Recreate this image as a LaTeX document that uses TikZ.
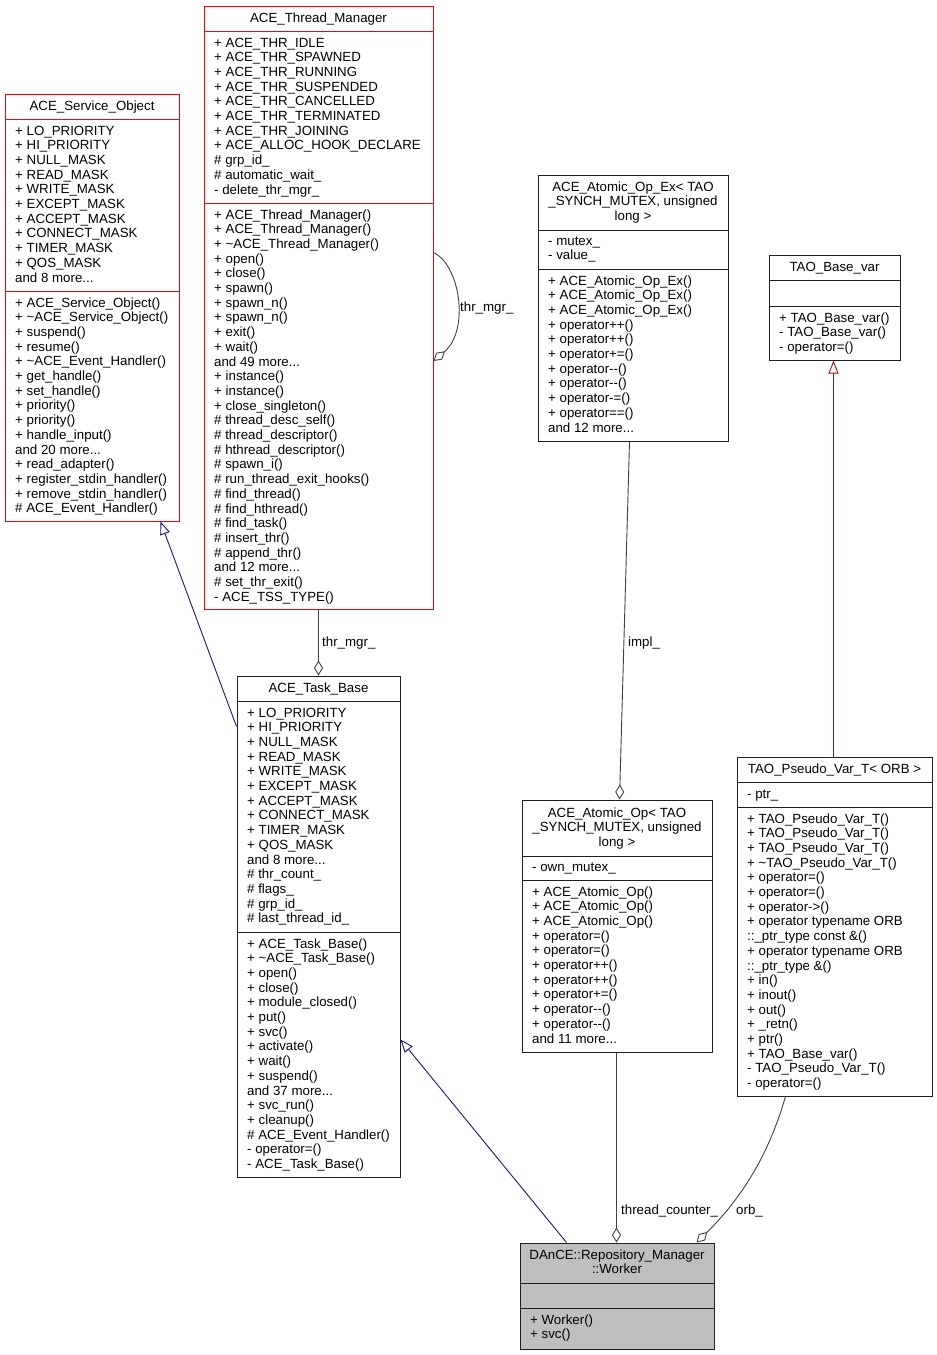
\documentclass[tikz,border=0pt]{standalone}
\usepackage{fontspec}
\setmainfont{Liberation Sans}
\usetikzlibrary{arrows.meta,calc,fit}
\definecolor{edgegray}{RGB}{64,64,64}
\definecolor{inhblue}{RGB}{25,25,112}
\definecolor{inhred}{RGB}{139,26,26}
\definecolor{workerfill}{RGB}{191,191,191}
\definecolor{boxred}{RGB}{255,0,0}
\definecolor{boxblack}{RGB}{30,30,30}
\tikzset{
  txt/.style={inner sep=0pt, font=\fontsize{13.3}{14.7}\selectfont},
  lbl/.style={inner sep=0pt, font=\fontsize{13.3}{14.7}\selectfont, anchor=base west},
  classblack/.style={draw=boxblack, line width=1pt, inner sep=0pt, fill=white},
  classred/.style={draw=boxred, line width=1pt, inner sep=0pt, fill=white},
  classgray/.style={draw=boxblack, line width=1pt, inner sep=0pt, fill=workerfill},
  divblack/.style={draw=boxblack, line width=1pt},
  divred/.style={draw=boxred, line width=1pt},
  inhb/.style={draw=inhblue, line width=0.9pt, -{Triangle[open, length=13pt, width=10pt]}},
  inhr/.style={draw=inhred, line width=0.9pt, -{Triangle[open, length=13pt, width=10pt]}},
  agg/.style={draw=edgegray, line width=0.9pt, -{Diamond[open, length=15pt, width=9pt]}}
}
\newcommand\txtlines[5]{%
  \foreach \tx [count=\i from 0] in {#5} {\node[txt, anchor=#4, name=#1\i] at (#2, #3+\i*14.7) {\tx};}}
\begin{document}
\begin{tikzpicture}[x=1pt, y=-1pt]
\useasboundingbox (0,0) rectangle (937,1355);

% ---------------- ACE_Service_Object
\node[classred, fit={(5,94) (179,521)}] (so) {};
\draw[divred] (5,119) -- (179,119);
\draw[divred] (5,291) -- (179,291);
\txtlines{sot}{92}{110}{base}{ACE\_Service\_Object}
\txtlines{soa}{15}{135}{base west}{+ LO\_PRIORITY, + HI\_PRIORITY, + NULL\_MASK, + READ\_MASK, + WRITE\_MASK, + EXCEPT\_MASK, + ACCEPT\_MASK, + CONNECT\_MASK, + TIMER\_MASK, + QOS\_MASK, and 8 more.{}.{}.}
\txtlines{som}{15}{307}{base west}{+ ACE\_Service\_Object(), + \textasciitilde ACE\_Service\_Object(), + suspend(), + resume(), + \textasciitilde ACE\_Event\_Handler(), + get\_handle(), + set\_handle(), + priority(), + priority(), + handle\_input(), and 20 more.{}.{}., + read\_adapter(), + register\_stdin\_handler(), + remove\_stdin\_handler(), \# ACE\_Event\_Handler()}

% ---------------- ACE_Thread_Manager
\node[classred, fit={(204,6) (433,609)}] (tm) {};
\draw[divred] (204,31) -- (433,31);
\draw[divred] (204,203) -- (433,203);
\txtlines{tmt}{318.5}{22}{base}{ACE\_Thread\_Manager}
\txtlines{tma}{214}{47}{base west}{+ ACE\_THR\_IDLE, + ACE\_THR\_SPAWNED, + ACE\_THR\_RUNNING, + ACE\_THR\_SUSPENDED, + ACE\_THR\_CANCELLED, + ACE\_THR\_TERMINATED, + ACE\_THR\_JOINING, + ACE\_ALLOC\_HOOK\_DECLARE, \# grp\_id\_, \# automatic\_wait\_, - delete\_thr\_mgr\_}
\txtlines{tmm}{214}{219}{base west}{+ ACE\_Thread\_Manager(), + ACE\_Thread\_Manager(), + \textasciitilde ACE\_Thread\_Manager(), + open(), + close(), + spawn(), + spawn\_n(), + spawn\_n(), + exit(), + wait(), and 49 more.{}.{}., + instance(), + instance(), + close\_singleton(), \# thread\_desc\_self(), \# thread\_descriptor(), \# hthread\_descriptor(), \# spawn\_i(), \# run\_thread\_exit\_hooks(), \# find\_thread(), \# find\_hthread(), \# find\_task(), \# insert\_thr(), \# append\_thr(), and 12 more.{}.{}., \# set\_thr\_exit(), - ACE\_TSS\_TYPE()}

% ---------------- ACE_Atomic_Op_Ex
\node[classblack, fit={(538,175) (728,441)}] (ex) {};
\draw[divblack] (538,230) -- (728,230);
\draw[divblack] (538,269) -- (728,269);
\txtlines{ext}{633}{191}{base}{{ACE\_Atomic\_Op\_Ex< TAO}, {\_SYNCH\_MUTEX, unsigned}, {long >}}
\txtlines{exa}{548}{245}{base west}{- mutex\_, - value\_}
\txtlines{exm}{548}{285}{base west}{+ ACE\_Atomic\_Op\_Ex(), + ACE\_Atomic\_Op\_Ex(), + ACE\_Atomic\_Op\_Ex(), + operator++(), + operator++(), + operator+=(), + operator-{}-(), + operator-{}-(), + operator-=(), + operator==(), and 12 more.{}.{}.}

% ---------------- TAO_Base_var
\node[classblack, fit={(769,255) (900,360)}] (bv) {};
\draw[divblack] (769,280.5) -- (900,280.5);
\draw[divblack] (769,306) -- (900,306);
\txtlines{bvt}{834.5}{271}{base}{TAO\_Base\_var}
\txtlines{bvm}{779}{322}{base west}{+ TAO\_Base\_var(), - TAO\_Base\_var(), - operator=()}

% ---------------- TAO_Pseudo_Var_T
\node[classblack, fit={(737,757) (932,1096)}] (pv) {};
\draw[divblack] (737,782) -- (932,782);
\draw[divblack] (737,807) -- (932,807);
\txtlines{pvt}{834.5}{773}{base}{TAO\_Pseudo\_Var\_T< ORB >}
\txtlines{pva}{747}{798}{base west}{- ptr\_}
\txtlines{pvm}{747}{823}{base west}{+ TAO\_Pseudo\_Var\_T(), + TAO\_Pseudo\_Var\_T(), + TAO\_Pseudo\_Var\_T(), + \textasciitilde TAO\_Pseudo\_Var\_T(), + operator=(), + operator=(), + operator->(), + operator typename ORB, ::\_ptr\_type const \&(), + operator typename ORB, ::\_ptr\_type \&(), + in(), + inout(), + out(), + \_retn(), + ptr(), + TAO\_Base\_var(), - TAO\_Pseudo\_Var\_T(), - operator=()}

% ---------------- ACE_Task_Base
\node[classblack, fit={(237,676) (400,1177)}] (tb) {};
\draw[divblack] (237,701) -- (400,701);
\draw[divblack] (237,932) -- (400,932);
\txtlines{tbt}{318.5}{692}{base}{ACE\_Task\_Base}
\txtlines{tba}{247}{717}{base west}{+ LO\_PRIORITY, + HI\_PRIORITY, + NULL\_MASK, + READ\_MASK, + WRITE\_MASK, + EXCEPT\_MASK, + ACCEPT\_MASK, + CONNECT\_MASK, + TIMER\_MASK, + QOS\_MASK, and 8 more.{}.{}., \# thr\_count\_, \# flags\_, \# grp\_id\_, \# last\_thread\_id\_}
\txtlines{tbm}{247}{948}{base west}{+ ACE\_Task\_Base(), + \textasciitilde ACE\_Task\_Base(), + open(), + close(), + module\_closed(), + put(), + svc(), + activate(), + wait(), + suspend(), and 37 more.{}.{}., + svc\_run(), + cleanup(), \# ACE\_Event\_Handler(), - operator=(), - ACE\_Task\_Base()}

% ---------------- ACE_Atomic_Op
\node[classblack, fit={(522,800) (712,1052)}] (ao) {};
\draw[divblack] (522,856) -- (712,856);
\draw[divblack] (522,880) -- (712,880);
\txtlines{aot}{617}{817}{base}{{ACE\_Atomic\_Op< TAO}, {\_SYNCH\_MUTEX, unsigned}, {long >}}
\txtlines{aoa}{532}{871}{base west}{- own\_mutex\_}
\txtlines{aom}{532}{896}{base west}{+ ACE\_Atomic\_Op(), + ACE\_Atomic\_Op(), + ACE\_Atomic\_Op(), + operator=(), + operator=(), + operator++(), + operator++(), + operator+=(), + operator-{}-(), + operator-{}-(), and 11 more.{}.{}.}

% ---------------- Worker
\node[classgray, fit={(520,1243) (714,1349)}] (w) {};
\draw[divblack] (520,1283) -- (714,1283);
\draw[divblack] (520,1308) -- (714,1308);
\txtlines{wt}{617}{1259}{base}{DAnCE::Repository\_Manager, ::Worker}
\txtlines{wm}{530}{1324}{base west}{+ Worker(), + svc()}

% ---------------- connectors
\draw[inhb] ($(tb.north west)+(0,51)$) -- ($(so.south west)+(156,0)$);
\draw[inhb] ($(w.north west)+(47,0)$) -- ($(tb.north east)+(0,364)$);
\draw[inhr] ($(pv.north west)+(97,0)$) -- ($(bv.south west)+(65,0)$);

\draw[agg] ($(tm.south west)+(115,0)$) -- ($(tb.north west)+(82,0)$);
\node[lbl] (l1) at (322,646) {thr\_mgr\_};
\draw[agg] ($(tm.north east)+(0,247)$) .. controls (460,265) and (470,330) .. ($(tm.north east)+(0,355.5)$);
\node[lbl] (l2) at (460,311) {thr\_mgr\_};
\draw[agg] ($(ex.south west)+(92,0)$) -- ($(ao.north west)+(98,0)$);
\node[lbl] (l3) at (628,646) {impl\_};
\draw[agg] ($(ao.south west)+(95,0)$) -- ($(w.north west)+(97,0)$);
\node[lbl] (l4) at (621,1214) {thread\_counter\_};
\draw[agg] ($(pv.south west)+(49,0)$) .. controls (770,1150) and (745,1195) .. ($(w.north west)+(177,0)$);
\node[lbl] (l5) at (736,1214) {orb\_};
\end{tikzpicture}
\end{document}
